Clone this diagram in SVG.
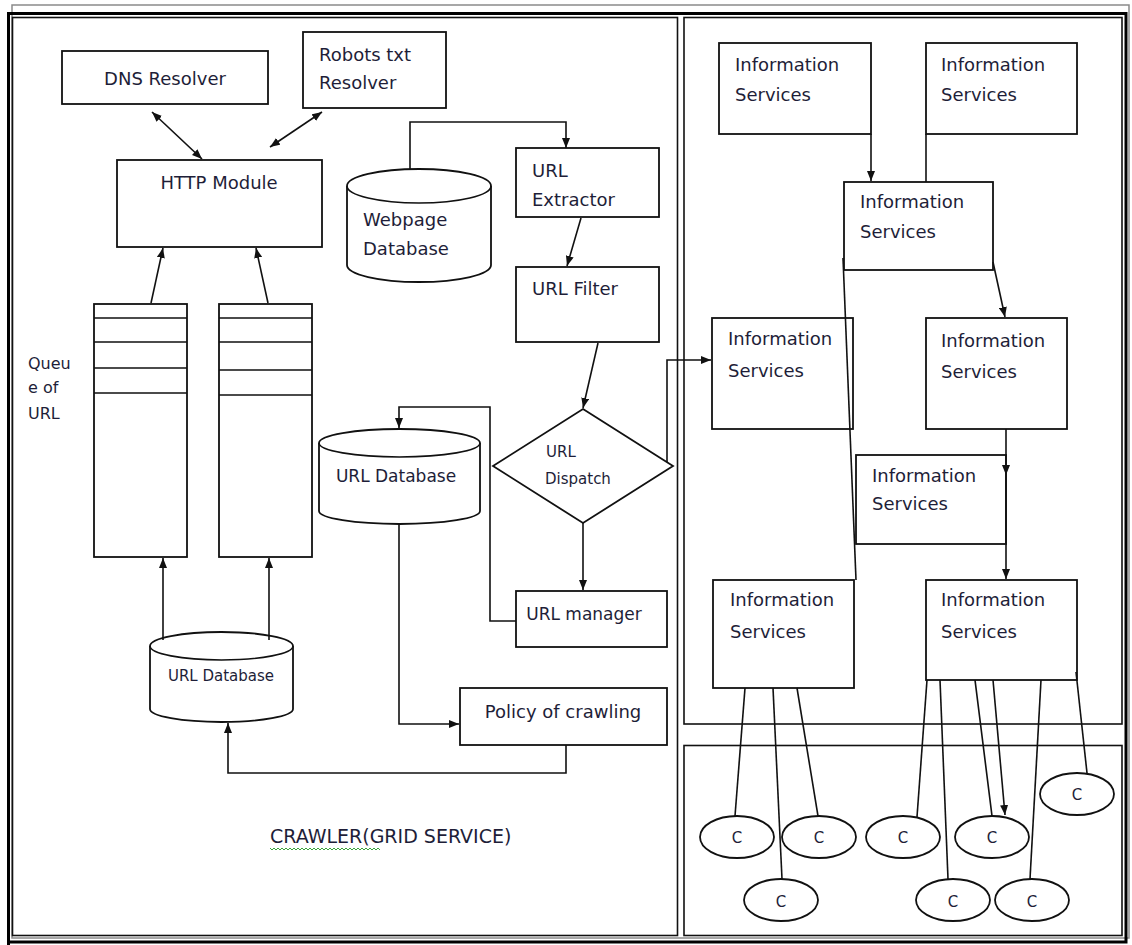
<svg xmlns="http://www.w3.org/2000/svg" width="1132" height="945" viewBox="0 0 1132 945">
  <defs>
    <style>
      .box { fill: #ffffff; stroke: #111111; stroke-width: 1.8; }
      .frame { fill: none; stroke: #111111; stroke-width: 1.6; }
      .wire { fill: none; stroke: #111111; stroke-width: 1.6; }
      .lbl { font-family: "DejaVu Sans", "Liberation Sans", sans-serif; font-size: 18px; fill: #1e1e38; }
      .mid { text-anchor: middle; }
      .small { font-size: 15px; }
    </style>
    <marker id="arrow" viewBox="0 0 10 8" refX="10" refY="4" markerWidth="10" markerHeight="8" markerUnits="userSpaceOnUse" orient="auto-start-reverse">
      <path d="M0,0 L10,4 L0,8 z" fill="#111111"/>
    </marker>
  </defs>

  <rect x="0" y="0" width="1132" height="945" fill="#ffffff"/>

  <!-- page frame -->
  <g id="frame">
    <rect x="12" y="5" width="1117" height="933" fill="none" stroke="#8a8a8a" stroke-width="1.5"/>
    <path d="M8.5,945 V13.5 H1126 V942 H8.5" fill="none" stroke="#000000" stroke-width="3"/>
    <rect class="frame" x="12.5" y="17.5" width="665" height="918"/>
    <rect class="frame" x="684" y="17.5" width="438" height="706.5"/>
    <rect class="frame" x="684" y="745.5" width="438" height="190"/>
  </g>

  <!-- crawler side -->
  <g id="dns-resolver">
    <rect class="box" x="62" y="51" width="206" height="53"/>
    <text class="lbl mid" x="165" y="85">DNS Resolver</text>
  </g>
  <g id="robots-resolver">
    <rect class="box" x="303" y="32" width="143" height="76"/>
    <text class="lbl" x="319" y="61">Robots txt</text>
    <text class="lbl" x="319" y="89">Resolver</text>
  </g>
  <g id="http-module">
    <rect class="box" x="117" y="160" width="205" height="87"/>
    <text class="lbl mid" x="219" y="189">HTTP Module</text>
  </g>
  <g id="queue-1">
    <rect class="box" x="94" y="304" width="93" height="253"/>
    <path class="wire" d="M94,318 H187 M94,342 H187 M94,368 H187 M94,393 H187"/>
  </g>
  <g id="queue-2">
    <rect class="box" x="219" y="304" width="93" height="253"/>
    <path class="wire" d="M219,318 H312 M219,342 H312 M219,370 H312 M219,395 H312"/>
  </g>
  <g id="queue-label">
    <text class="lbl" style="font-size:16px" x="28" y="369">Queu</text>
    <text class="lbl" style="font-size:16px" x="28" y="393">e of</text>
    <text class="lbl" style="font-size:16px" x="28" y="419">URL</text>
  </g>
  <g id="webpage-database">
    <path class="box" d="M347,186 A72,17 0 0 1 491,186 V265 A72,17 0 0 1 347,265 Z"/>
    <path class="wire" d="M347,186 A72,17 0 0 0 491,186"/>
    <text class="lbl" x="363" y="226">Webpage</text>
    <text class="lbl" x="363" y="255">Database</text>
  </g>
  <g id="url-extractor">
    <rect class="box" x="516" y="148" width="143" height="69"/>
    <text class="lbl" x="532" y="177">URL</text>
    <text class="lbl" x="532" y="206">Extractor</text>
  </g>
  <g id="url-filter">
    <rect class="box" x="516" y="267" width="143" height="75"/>
    <text class="lbl" x="532" y="295">URL Filter</text>
  </g>
  <g id="url-dispatch">
    <path class="box" d="M583,409 L673,466 L583,523 L493,466 Z"/>
    <text class="lbl small" x="546" y="457">URL</text>
    <text class="lbl small" x="545" y="484">Dispatch</text>
  </g>
  <g id="url-database">
    <path class="box" d="M319,443 A80.5,14 0 0 1 480,443 V511 A80.5,13 0 0 1 319,511 Z"/>
    <path class="wire" d="M319,443 A80.5,14 0 0 0 480,443"/>
    <text class="lbl mid" style="font-size:17px" x="396" y="482">URL Database</text>
  </g>
  <g id="url-manager">
    <rect class="box" x="516" y="591" width="151" height="56"/>
    <text class="lbl mid" style="font-size:17px" x="584" y="620">URL manager</text>
  </g>
  <g id="crawl-policy">
    <rect class="box" x="460" y="688" width="207" height="57"/>
    <text class="lbl mid" x="563" y="718">Policy of crawling</text>
  </g>
  <g id="url-database-seed">
    <path class="box" d="M150,646 A71.5,14 0 0 1 293,646 V709 A71.5,13 0 0 1 150,709 Z"/>
    <path class="wire" d="M150,646 A71.5,14 0 0 0 293,646"/>
    <text class="lbl mid small" x="221" y="681">URL Database</text>
  </g>
  <g id="crawler-title">
    <text class="lbl" style="font-size:19px" x="270" y="843">CRAWLER(GRID SERVICE)</text>
    <path d="M270,848 l2,2 l2,-2 l2,2 l2,-2 l2,2 l2,-2 l2,2 l2,-2 l2,2 l2,-2 l2,2 l2,-2 l2,2 l2,-2 l2,2 l2,-2 l2,2 l2,-2 l2,2 l2,-2 l2,2 l2,-2 l2,2 l2,-2 l2,2 l2,-2 l2,2 l2,-2 l2,2 l2,-2 l2,2 l2,-2 l2,2 l2,-2 l2,2 l2,-2 l2,2 l2,-2 l2,2 l2,-2 l2,2 l2,-2 l2,2 l2,-2 l2,2 l2,-2 l2,2 l2,-2 l2,2 l2,-2 l2,2 l2,-2 l2,2 l2,-2 l2,2" fill="none" stroke="#3aa53a" stroke-width="1"/>
  </g>

  <!-- information services side -->
  <g id="info-1">
    <rect class="box" x="719" y="43" width="152" height="91"/>
    <text class="lbl" x="735" y="71">Information</text>
    <text class="lbl" x="735" y="101">Services</text>
  </g>
  <g id="info-2">
    <rect class="box" x="926" y="43" width="151" height="91"/>
    <text class="lbl" x="941" y="71">Information</text>
    <text class="lbl" x="941" y="101">Services</text>
  </g>
  <g id="info-3">
    <rect class="box" x="844" y="182" width="149" height="88"/>
    <text class="lbl" x="860" y="208">Information</text>
    <text class="lbl" x="860" y="238">Services</text>
  </g>
  <g id="info-4">
    <rect class="box" x="712" y="318" width="141" height="111"/>
    <text class="lbl" x="728" y="345">Information</text>
    <text class="lbl" x="728" y="377">Services</text>
  </g>
  <g id="info-5">
    <rect class="box" x="926" y="318" width="141" height="111"/>
    <text class="lbl" x="941" y="347">Information</text>
    <text class="lbl" x="941" y="378">Services</text>
  </g>
  <g id="info-6">
    <rect class="box" x="856" y="455" width="150" height="89"/>
    <text class="lbl" x="872" y="482">Information</text>
    <text class="lbl" x="872" y="510">Services</text>
  </g>
  <g id="info-7">
    <rect class="box" x="713" y="580" width="141" height="108"/>
    <text class="lbl" x="730" y="606">Information</text>
    <text class="lbl" x="730" y="638">Services</text>
  </g>
  <g id="info-8">
    <rect class="box" x="926" y="580" width="151" height="100"/>
    <text class="lbl" x="941" y="606">Information</text>
    <text class="lbl" x="941" y="638">Services</text>
  </g>

  <!-- connectors -->
  <g id="connectors">
    <line class="wire" x1="152" y1="112" x2="202" y2="159" marker-start="url(#arrow)" marker-end="url(#arrow)"/>
    <line class="wire" x1="322" y1="112" x2="270" y2="147" marker-start="url(#arrow)" marker-end="url(#arrow)"/>
    <line class="wire" x1="151" y1="303" x2="163" y2="248" marker-end="url(#arrow)"/>
    <line class="wire" x1="268" y1="303" x2="256" y2="248" marker-end="url(#arrow)"/>
    <line class="wire" x1="163" y1="640" x2="163" y2="558" marker-end="url(#arrow)"/>
    <line class="wire" x1="269" y1="640" x2="269" y2="558" marker-end="url(#arrow)"/>
    <polyline class="wire" points="410,169 410,122 566,122 566,148" marker-end="url(#arrow)"/>
    <line class="wire" x1="581" y1="218" x2="567" y2="266" marker-end="url(#arrow)"/>
    <line class="wire" x1="598" y1="343" x2="583" y2="408" marker-end="url(#arrow)"/>
    <line class="wire" x1="583" y1="523" x2="583" y2="590" marker-end="url(#arrow)"/>
    <polyline class="wire" points="667,462 667,360 711,360" marker-end="url(#arrow)"/>
    <polyline class="wire" points="516,621 490,621 490,407 399,407 399,428" marker-end="url(#arrow)"/>
    <polyline class="wire" points="399,524 399,724 459,724" marker-end="url(#arrow)"/>
    <polyline class="wire" points="566,745 566,773 228,773 228,723" marker-end="url(#arrow)"/>

    <line class="wire" x1="871" y1="134" x2="871" y2="181" marker-end="url(#arrow)"/>
    <line class="wire" x1="926" y1="134" x2="926" y2="182"/>
    <line class="wire" x1="993" y1="262" x2="1005" y2="317" marker-end="url(#arrow)"/>
    <line class="wire" x1="843" y1="258" x2="856" y2="580"/>
    <line class="wire" x1="1006" y1="429" x2="1006" y2="475" marker-end="url(#arrow)"/>
    <line class="wire" x1="1006" y1="475" x2="1006" y2="579" marker-end="url(#arrow)"/>

    <line class="wire" x1="745" y1="688" x2="735" y2="816"/>
    <line class="wire" x1="773" y1="688" x2="782" y2="879"/>
    <line class="wire" x1="797" y1="688" x2="818" y2="816"/>
    <line class="wire" x1="927" y1="680" x2="917" y2="817"/>
    <line class="wire" x1="940" y1="680" x2="948" y2="879"/>
    <line class="wire" x1="975" y1="680" x2="992" y2="816"/>
    <line class="wire" x1="993" y1="680" x2="1005" y2="815" marker-end="url(#arrow)"/>
    <line class="wire" x1="1041" y1="680" x2="1030" y2="879"/>
    <line class="wire" x1="1076" y1="672" x2="1087" y2="773"/>
  </g>

  <!-- client nodes -->
  <g id="client-1"><ellipse class="box" cx="737" cy="837" rx="37" ry="21"/><text class="lbl mid small" x="737" y="843">C</text></g>
  <g id="client-2"><ellipse class="box" cx="819" cy="837" rx="37" ry="21"/><text class="lbl mid small" x="819" y="843">C</text></g>
  <g id="client-3"><ellipse class="box" cx="903" cy="837" rx="37" ry="21"/><text class="lbl mid small" x="903" y="843">C</text></g>
  <g id="client-4"><ellipse class="box" cx="992" cy="837" rx="37" ry="21"/><text class="lbl mid small" x="992" y="843">C</text></g>
  <g id="client-5"><ellipse class="box" cx="1077" cy="794" rx="37" ry="21"/><text class="lbl mid small" x="1077" y="800">C</text></g>
  <g id="client-6"><ellipse class="box" cx="781" cy="900" rx="37" ry="21"/><text class="lbl mid small" x="781" y="907">C</text></g>
  <g id="client-7"><ellipse class="box" cx="953" cy="900" rx="37" ry="21"/><text class="lbl mid small" x="953" y="907">C</text></g>
  <g id="client-8"><ellipse class="box" cx="1032" cy="900" rx="37" ry="21"/><text class="lbl mid small" x="1032" y="907">C</text></g>
</svg>
